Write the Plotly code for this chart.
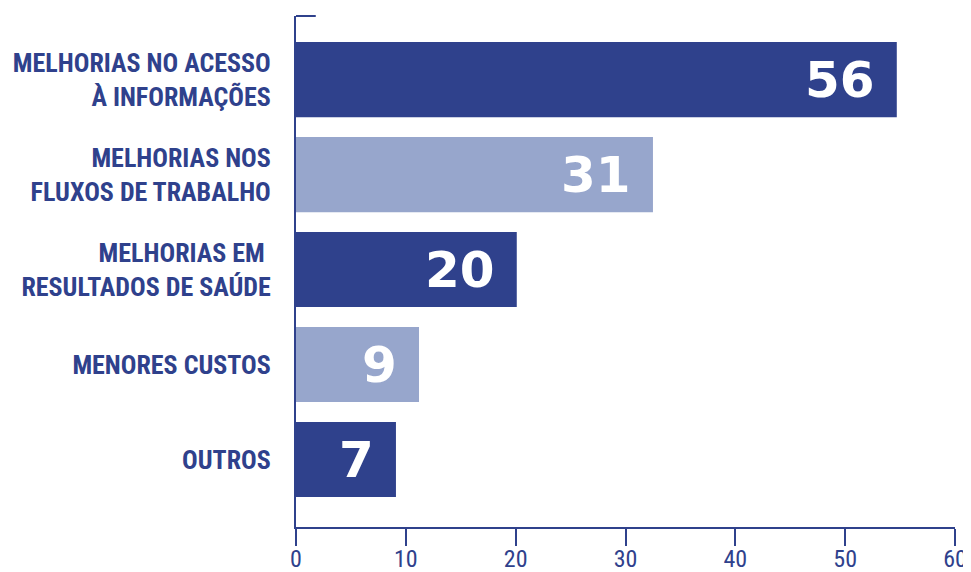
'import the required libraries'
import plotly.graph_objects as go

#categories, bar lengths (as drawn) and the printed values
categories = [
    'MELHORIAS NO ACESSO<br>À INFORMAÇÕES',
    'MELHORIAS NOS<br>FLUXOS DE TRABALHO',
    'MELHORIAS EM <br>RESULTADOS DE SAÚDE',
    'MENORES CUSTOS',
    'OUTROS',
]
bar_values = [54.7, 32.5, 20.1, 11.2, 9.1]
value_labels = ['56', '31', '20', '9', '7']
x_ticks = [0, 10, 20, 30, 40, 50, 60]

#colors
navy = '#2f418c'
light = '#97a6cc'
bar_colors = [navy, light, navy, light, navy]
label_font = 'Liberation Sans Narrow, Roboto Condensed, Arial Narrow, sans-serif'

#generate figure
fig = go.Figure(
    go.Bar(
        x=bar_values,
        y=categories,
        orientation='h',
        marker_color=bar_colors,
        marker_line_width=0,
        hoverinfo='skip'
    )
)

#value labels inside the bar ends
for cat, val, lab in zip(categories, bar_values, value_labels):
    fig.add_annotation(
        x=val, y=cat, text=lab, showarrow=False,
        xanchor='right', yanchor='middle', xshift=-20,
        font=dict(family='DejaVu Sans', size=50, color='white', weight='bold')
    )

#small cap at the top of the y axis
fig.add_shape(
    type='line', xref='paper', yref='paper',
    x0=0, x1=0.03, y0=1, y1=1,
    line=dict(color=navy, width=2)
)

#update layout (page body adds an 8px offset)
fig.update_layout(
    width=963,
    height=564,
    paper_bgcolor='white',
    plot_bgcolor='white',
    margin=dict(l=288, r=16, t=8, b=45, autoexpand=False),
    bargap=0.21,
    showlegend=False
)

#update the axes
fig.update_xaxes(
    range=[0, 60],
    tickvals=x_ticks,
    automargin=False,
    showgrid=False,
    zeroline=False,
    showline=True,
    linecolor=navy,
    linewidth=2,
    ticks='outside',
    ticklen=17,
    tickwidth=2,
    tickcolor=navy,
    ticklabelstandoff=-8,
    tickfont=dict(family=label_font, size=24, color=navy)
)
fig.update_yaxes(
    type='category',
    autorange=False,
    automargin=False,
    range=[4.71, -0.67],
    showgrid=False,
    zeroline=False,
    showline=True,
    linecolor=navy,
    linewidth=2,
    ticks='',
    ticklabelstandoff=18,
    tickfont=dict(family=label_font, size=26, color=navy, weight='bold')
)

fig.write_html('out.html')
